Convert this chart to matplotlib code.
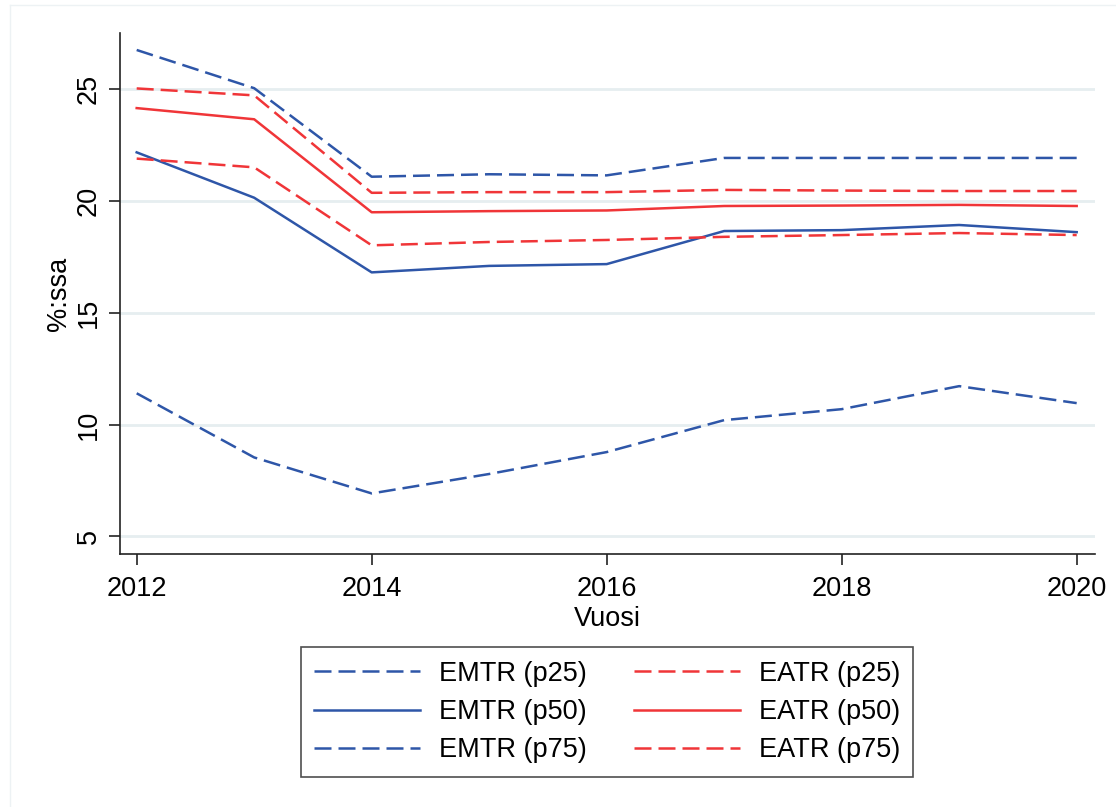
import matplotlib
matplotlib.use("Agg")
import matplotlib.pyplot as plt
from matplotlib.lines import Line2D

plt.rcParams['font.family'] = ['Liberation Sans', 'DejaVu Sans']

years = [2012, 2013, 2014, 2015, 2016, 2017, 2018, 2019, 2020]
emtr_p25 = [11.40, 8.53, 6.92, 7.79, 8.77, 10.20, 10.69, 11.72, 10.96]
emtr_p50 = [22.18, 20.15, 16.81, 17.10, 17.18, 18.66, 18.70, 18.93, 18.61]
emtr_p75 = [26.76, 25.05, 21.09, 21.20, 21.15, 21.93, 21.93, 21.93, 21.93]
eatr_p25 = [21.90, 21.51, 18.02, 18.17, 18.26, 18.40, 18.48, 18.57, 18.48]
eatr_p50 = [24.16, 23.66, 19.50, 19.55, 19.58, 19.78, 19.80, 19.83, 19.78]
eatr_p75 = [25.04, 24.73, 20.37, 20.40, 20.40, 20.50, 20.47, 20.45, 20.45]

labels_emtr = ["EMTR (p25)", "EMTR (p50)", "EMTR (p75)"]
labels_eatr = ["EATR (p25)", "EATR (p50)", "EATR (p75)"]
yticks = [5, 10, 15, 20, 25]
xticks = [2012, 2014, 2016, 2018, 2020]

BLUE = "#2E56A8"
RED = "#F03538"
LW = 1.8
DASH = (6.8, 2.8)
FS = 19.5

fig = plt.figure(figsize=(11.16, 8.07), dpi=100)
ax = fig.add_axes([120/1116, 1-554/807, (1095-120)/1116, (554-33)/807])

# faint outer graph-region frame (left and top)
fig.add_artist(Line2D([10/1116, 10/1116], [0, 1-5/807], transform=fig.transFigure,
                      color="#EDF2F4", lw=1.0))
fig.add_artist(Line2D([10/1116, 1], [1-5/807, 1-5/807], transform=fig.transFigure,
                      color="#EDF2F4", lw=1.0))

for yt in yticks:
    ax.axhline(yt, color="#E6EEF0", lw=2.0, zorder=0)

series = [
    (emtr_p25, BLUE, True, labels_emtr[0]),
    (emtr_p50, BLUE, False, labels_emtr[1]),
    (emtr_p75, BLUE, True, labels_emtr[2]),
    (eatr_p25, RED, True, labels_eatr[0]),
    (eatr_p50, RED, False, labels_eatr[1]),
    (eatr_p75, RED, True, labels_eatr[2]),
]
handles = []
for vals, col, dashed, lab in series:
    if dashed:
        ln, = ax.plot(years, vals, color=col, lw=LW, dashes=DASH, label=lab, zorder=3)
    else:
        ln, = ax.plot(years, vals, color=col, lw=LW, label=lab, zorder=3)
    handles.append(ln)

ax.set_xlim(2011.858, 2020.156)
ax.set_ylim(4.21, 27.52)
ax.set_xticks(xticks)
ax.set_yticks(yticks)
ax.set_xticklabels([str(x) for x in xticks], fontsize=FS)
ax.set_yticklabels([str(y) for y in yticks], fontsize=FS, rotation=90, va='center')

for s in ['top', 'right']:
    ax.spines[s].set_visible(False)
for s in ['left', 'bottom']:
    ax.spines[s].set_color("#222222")
    ax.spines[s].set_linewidth(1.2)
ax.tick_params(axis='both', direction='out', length=8, width=1.2, color="#222222")
ax.tick_params(axis='x', pad=8)
ax.tick_params(axis='y', pad=5)

ax.set_xlabel("Vuosi", fontsize=FS, labelpad=3)
ax.set_ylabel("%:ssa", fontsize=FS, labelpad=3)

leg = fig.legend(handles=handles, loc='center', bbox_to_anchor=(607/1116, 1-712/807),
                 ncol=2, fontsize=FS, frameon=True, fancybox=False,
                 handlelength=3.9, handletextpad=0.7, columnspacing=1.75,
                 labelspacing=0.46, borderpad=0.5)
leg.get_frame().set_edgecolor("#222222")
leg.get_frame().set_linewidth(1.2)

fig.savefig("out.png", dpi=100, facecolor="white")
